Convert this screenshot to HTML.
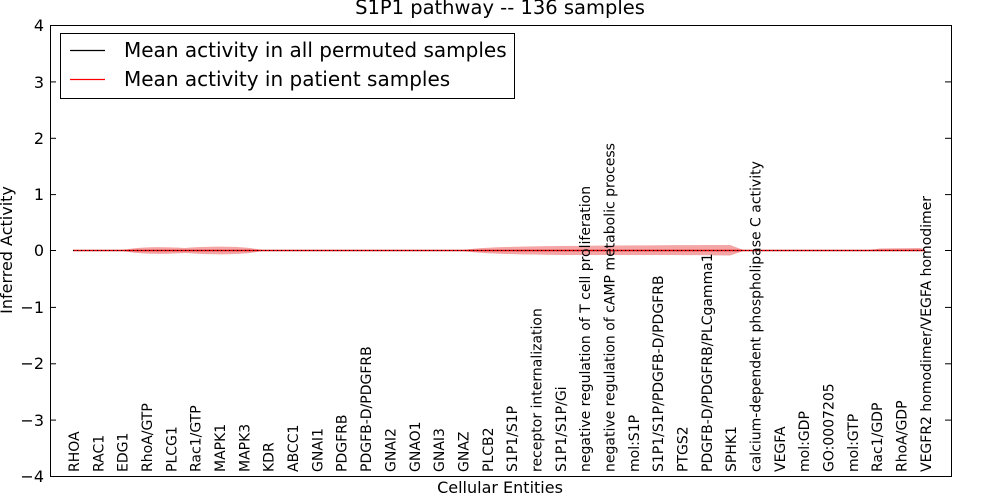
<!DOCTYPE html>
<html><head><meta charset="utf-8"><style>
html,body{margin:0;padding:0;background:#fff;}
svg{display:block;font-family:"DejaVu Sans","Liberation Sans",sans-serif;}
</style></head><body>
<svg width="1000" height="500" viewBox="0 0 1000 500" xmlns="http://www.w3.org/2000/svg">
<rect width="1000" height="500" fill="#fff"/>
<text x="500" y="14" font-size="19.5" text-anchor="middle">S1P1 pathway -- 136 samples</text>
<!-- band -->
<path d="M120,250.5 C140,246.5 160,246.5 185,248 C205,246.5 230,246 250,248 L265,250.5 L250,253 C230,255 205,254.5 185,253 C160,254.5 140,254.5 120,250.5 Z" fill="#f08080" opacity="0.7"/>
<path d="M460,250.5 C480,247 520,246.5 560,246 C620,245.5 680,245 730,245 L745,250.5 L730,255.5 C680,255 620,255 560,255 C520,254.5 480,254 460,250.5 Z" fill="#f08080" opacity="0.7"/>
<path d="M865,250.5 L880,248.5 L920,248 L925,249.5 L925,250.5 Z" fill="#f08080" opacity="0.7"/>
<line x1="73" y1="250.5" x2="925" y2="250.5" stroke="#e00000" stroke-width="1.6"/>
<line x1="73" y1="250.5" x2="925" y2="250.5" stroke="#000" stroke-width="1" stroke-dasharray="1.2,2.8"/>
<!-- axes -->
<rect x="50.5" y="25.5" width="901" height="451" fill="none" stroke="#000" stroke-width="1"/>
<g stroke="#000" stroke-width="1">
<line x1="50" y1="25.5" x2="56" y2="25.5"/><line x1="945" y1="25.5" x2="951" y2="25.5"/>
<line x1="50" y1="81.9" x2="56" y2="81.9"/><line x1="945" y1="81.9" x2="951" y2="81.9"/>
<line x1="50" y1="138.3" x2="56" y2="138.3"/><line x1="945" y1="138.3" x2="951" y2="138.3"/>
<line x1="50" y1="194.6" x2="56" y2="194.6"/><line x1="945" y1="194.6" x2="951" y2="194.6"/>
<line x1="50" y1="250.5" x2="56" y2="250.5"/><line x1="945" y1="250.5" x2="951" y2="250.5"/>
<line x1="50" y1="307.4" x2="56" y2="307.4"/><line x1="945" y1="307.4" x2="951" y2="307.4"/>
<line x1="50" y1="363.8" x2="56" y2="363.8"/><line x1="945" y1="363.8" x2="951" y2="363.8"/>
<line x1="50" y1="420.1" x2="56" y2="420.1"/><line x1="945" y1="420.1" x2="951" y2="420.1"/>
</g>
<g font-size="16" text-anchor="end">
<text x="44" y="31">4</text><text x="44" y="88">3</text><text x="44" y="144">2</text><text x="44" y="200">1</text>
<text x="44" y="256">0</text><text x="44" y="313">−1</text><text x="44" y="369">−2</text><text x="44" y="426">−3</text><text x="44" y="482">−4</text>
</g>
<text x="500" y="493" font-size="16" text-anchor="middle">Cellular Entities</text>
<text transform="translate(12,250) rotate(-90)" font-size="16" text-anchor="middle">Inferred Activity</text>
<!-- x labels -->
<g font-size="14">
<text transform="translate(79,472) rotate(-90)">RHOA</text>
<text transform="translate(103.3,472) rotate(-90)">RAC1</text>
<text transform="translate(127.7,472) rotate(-90)">EDG1</text>
<text transform="translate(152,472) rotate(-90)">RhoA/GTP</text>
<text transform="translate(176.4,472) rotate(-90)">PLCG1</text>
<text transform="translate(200.7,472) rotate(-90)">Rac1/GTP</text>
<text transform="translate(225,472) rotate(-90)">MAPK1</text>
<text transform="translate(249.4,472) rotate(-90)">MAPK3</text>
<text transform="translate(273.7,472) rotate(-90)">KDR</text>
<text transform="translate(298,472) rotate(-90)">ABCC1</text>
<text transform="translate(322.4,472) rotate(-90)">GNAI1</text>
<text transform="translate(346.7,472) rotate(-90)">PDGFRB</text>
<text transform="translate(371.1,472) rotate(-90)">PDGFB-D/PDGFRB</text>
<text transform="translate(395.4,472) rotate(-90)">GNAI2</text>
<text transform="translate(419.8,472) rotate(-90)">GNAO1</text>
<text transform="translate(444.1,472) rotate(-90)">GNAI3</text>
<text transform="translate(468.4,472) rotate(-90)">GNAZ</text>
<text transform="translate(492.8,472) rotate(-90)">PLCB2</text>
<text transform="translate(517.1,472) rotate(-90)">S1P1/S1P</text>
<text transform="translate(541.5,472) rotate(-90)">receptor internalization</text>
<text transform="translate(565.8,472) rotate(-90)">S1P1/S1P/Gi</text>
<text transform="translate(590.1,472) rotate(-90)">negative regulation of T cell proliferation</text>
<text transform="translate(614.5,472) rotate(-90)">negative regulation of cAMP metabolic process</text>
<text transform="translate(638.8,472) rotate(-90)">mol:S1P</text>
<text transform="translate(663.2,472) rotate(-90)">S1P1/S1P/PDGFB-D/PDGFRB</text>
<text transform="translate(687.5,472) rotate(-90)">PTGS2</text>
<text transform="translate(711.8,472) rotate(-90)">PDGFB-D/PDGFRB/PLCgamma1</text>
<text transform="translate(736.2,472) rotate(-90)">SPHK1</text>
<text transform="translate(760.5,472) rotate(-90)">calcium-dependent phospholipase C activity</text>
<text transform="translate(784.9,472) rotate(-90)">VEGFA</text>
<text transform="translate(809.2,472) rotate(-90)">mol:GDP</text>
<text transform="translate(833.5,472) rotate(-90)">GO:0007205</text>
<text transform="translate(857.9,472) rotate(-90)">mol:GTP</text>
<text transform="translate(882.2,472) rotate(-90)">Rac1/GDP</text>
<text transform="translate(906.6,472) rotate(-90)">RhoA/GDP</text>
<text transform="translate(930.9,472) rotate(-90)">VEGFR2 homodimer/VEGFA homodimer</text>
</g>
<!-- legend -->
<rect x="60.5" y="33.5" width="454" height="65" fill="#fff" stroke="#000" stroke-width="1"/>
<line x1="70" y1="50.5" x2="105" y2="50.5" stroke="#000" stroke-width="1.2"/>
<line x1="70" y1="79.5" x2="105" y2="79.5" stroke="#f00" stroke-width="1.2"/>
<text x="124" y="57" font-size="20">Mean activity in all permuted samples</text>
<text x="124" y="86" font-size="20">Mean activity in patient samples</text>
</svg>
</body></html>
